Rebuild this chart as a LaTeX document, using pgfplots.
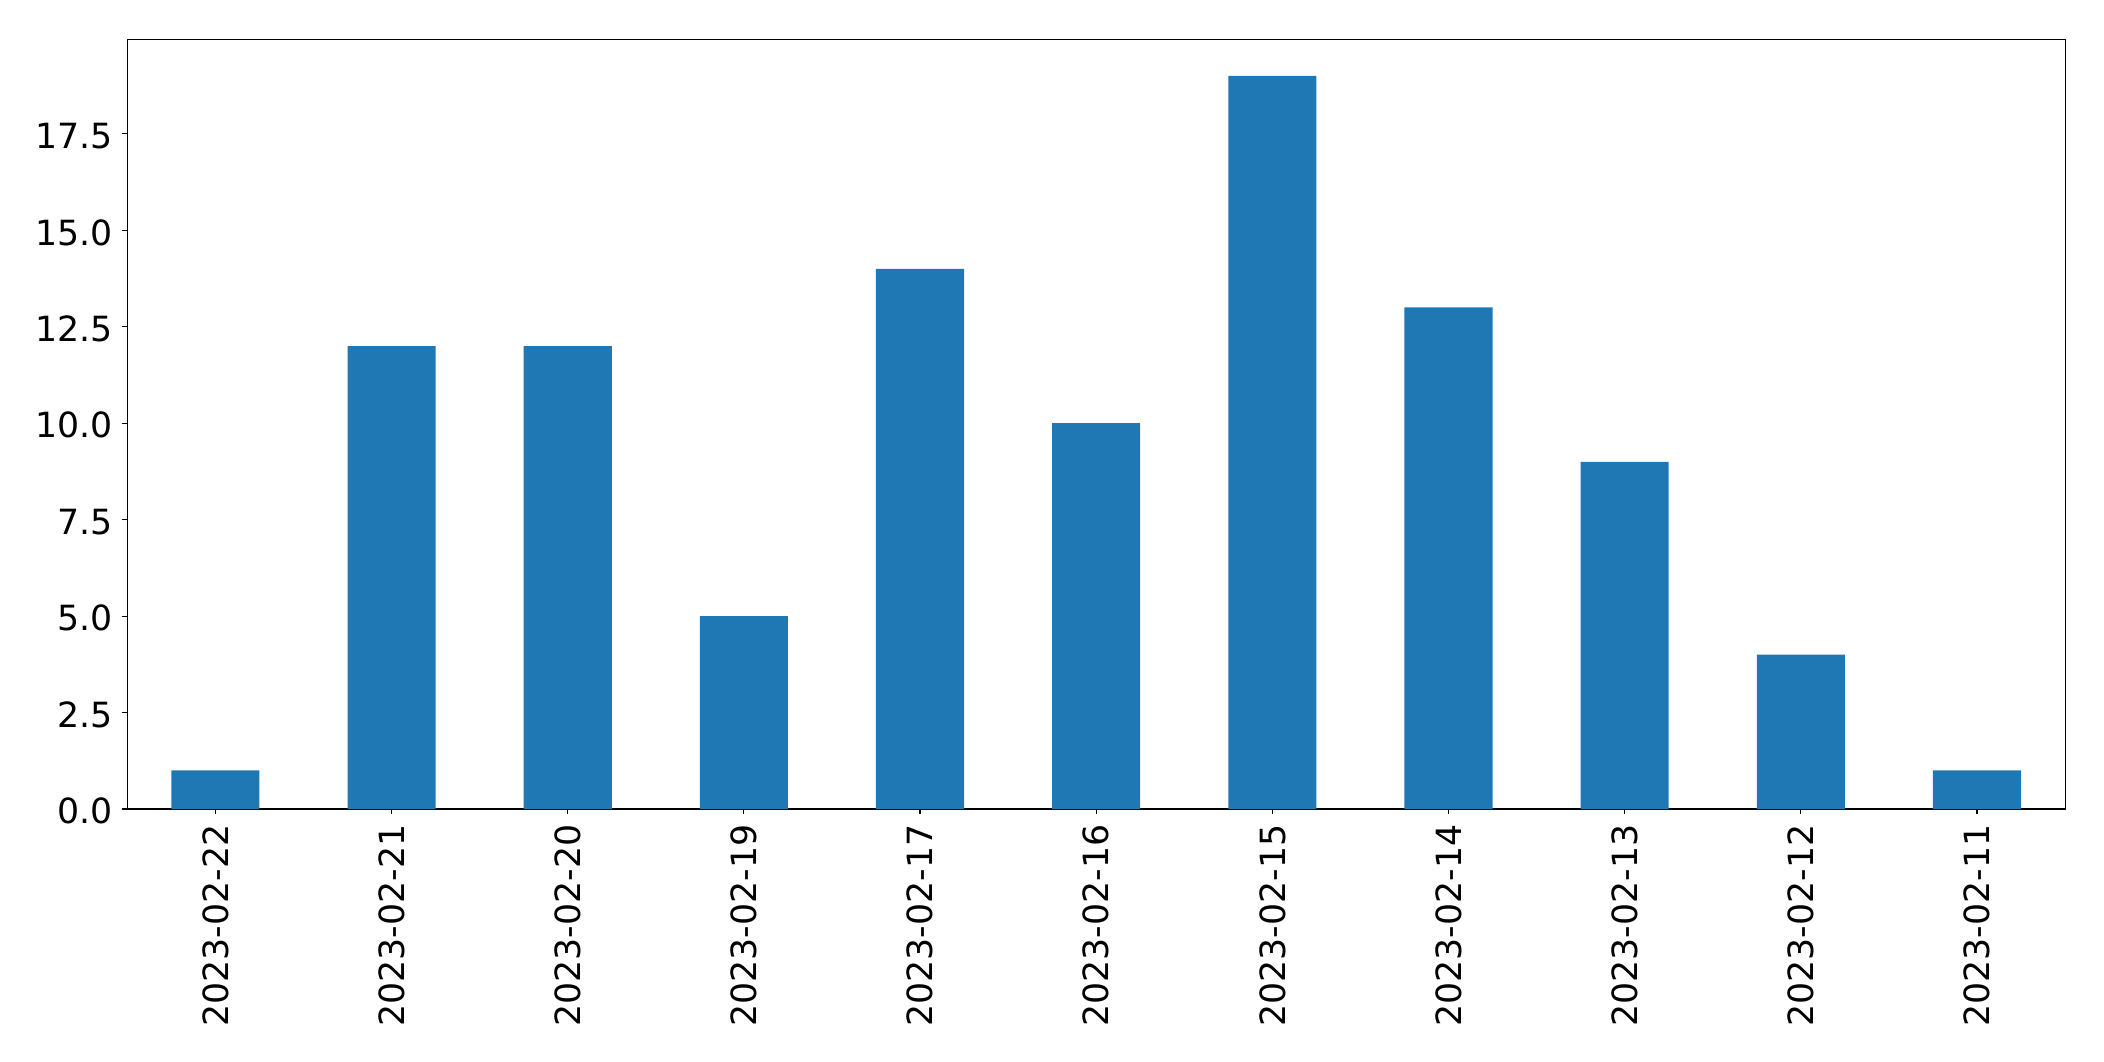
\documentclass[border=0pt]{standalone}
\usepackage{pgfplots}
\pgfplotsset{compat=1.18}
\usepackage{fontspec}
\setmainfont{DejaVu Sans}
\definecolor{barblue}{HTML}{1F77B4}
\begin{document}
\begin{tikzpicture}
\path[use as bounding box] (-91.66pt,-181.42pt) rectangle (1423.22pt,582.5pt);
\begin{axis}[
  at={(0,0)}, anchor=south west,
  scale only axis, width=1395.2pt, height=554.2pt,
  xmin=-0.5, xmax=10.5, ymin=0, ymax=19.95,
  ybar, bar width=0.5,
  axis line style={line width=0.8pt, black},
  tick align=outside, major tick length=3.5pt,
  tick style={line width=0.8pt, black},
  xtick pos=left, ytick pos=left,
  xtick={0,1,2,3,4,5,6,7,8,9,10},
  xticklabels={2023-02-22,2023-02-21,2023-02-20,2023-02-19,2023-02-17,2023-02-16,2023-02-15,2023-02-14,2023-02-13,2023-02-12,2023-02-11},
  ytick={0,2.5,5,7.5,10,12.5,15,17.5},
  /pgf/number format/assume math mode=true,
  yticklabel={\pgfmathprintnumber[fixed, fixed zerofill, precision=1]{\tick}},
  ticklabel style={font=\fontsize{25}{30}\selectfont},
  yticklabel style={anchor=east, inner sep=0pt, xshift=-6.7pt, yshift=-1.5pt},
  xticklabel style={yshift=-7.6pt, rotate=90, anchor=east, inner sep=0pt},
]
\addplot[fill=barblue, draw=none] coordinates {
  (0,1) (1,12) (2,12) (3,5) (4,14) (5,10) (6,19) (7,13) (8,9) (9,4) (10,1)
};
\end{axis}
\end{tikzpicture}
\end{document}
